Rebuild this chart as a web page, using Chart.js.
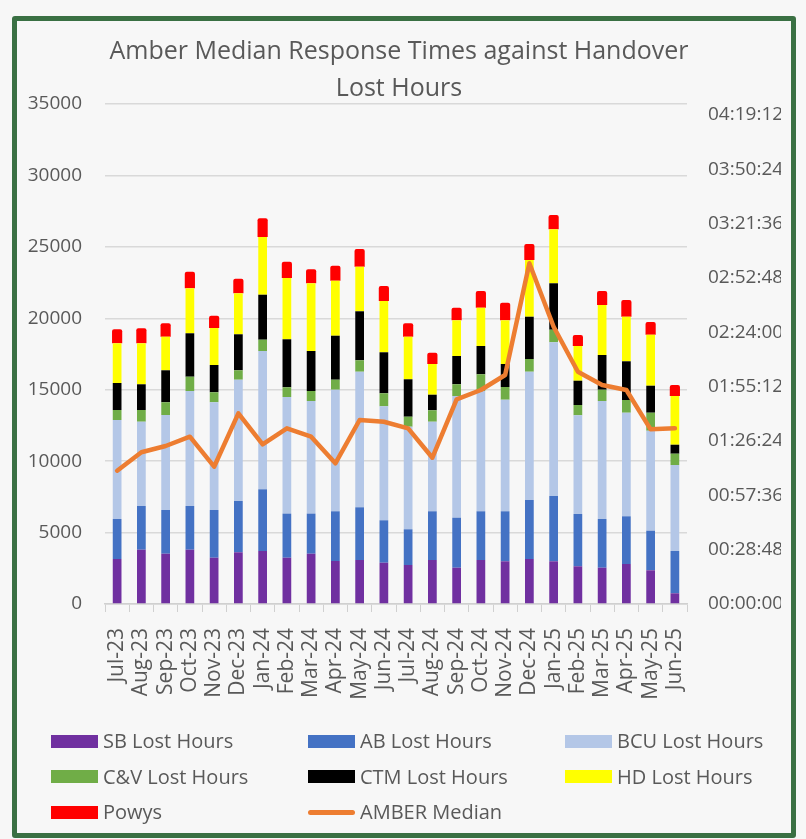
<!DOCTYPE html>
<html>
<head>
<meta charset="utf-8">
<script src="https://cdn.jsdelivr.net/npm/chart.js@4.4.1/dist/chart.umd.min.js"></script>
<style>
  body { margin: 0; width: 806px; height: 839px; background: #f7f7f7; position: relative; overflow: hidden; font-family: "Open Sans", sans-serif; }
  #frame { position: absolute; left: 12px; top: 16px; width: 774px; height: 812px; border: 5px solid #3a7043; border-radius: 3px; }
  .item { position: absolute; height: 28px; line-height: 28px; display: flex; align-items: center; font-size: 20px; color: #595959; white-space: nowrap; }
  .sw { width: 47px; margin-right: 5px; }
</style>
</head>
<body>
<div id="frame"><canvas id="chart-1"></canvas></div>
<div id="legend"></div>
<script>
const months = [
  "Jul-23", "Aug-23", "Sep-23", "Oct-23", "Nov-23", "Dec-23",
  "Jan-24", "Feb-24", "Mar-24", "Apr-24", "May-24", "Jun-24",
  "Jul-24", "Aug-24", "Sep-24", "Oct-24", "Nov-24", "Dec-24",
  "Jan-25", "Feb-25", "Mar-25", "Apr-25", "May-25", "Jun-25"
];
const sbLost = [3150, 3800, 3520, 3800, 3240, 3620, 3710, 3240, 3520, 3010, 3080, 2890,
  2730, 3080, 2540, 3080, 2990, 3150, 2990, 2640, 2540, 2800, 2360, 750];
const abLost = [2800, 3060, 3060, 3060, 3340, 3590, 4320, 3090, 2810, 3480, 3690, 2970,
  2500, 3410, 3500, 3410, 3500, 4130, 4570, 3660, 3410, 3340, 2770, 2960];
const bcuLost = [6930, 5900, 6650, 8050, 7540, 8490, 9680, 8160, 7880, 8510, 9490, 7980,
  7180, 6270, 8520, 8420, 7810, 8980, 10760, 6910, 8260, 7250, 7000, 6020];
const cvLost = [700, 820, 890, 1000, 700, 660, 790, 680, 700, 700, 800, 910,
  700, 800, 820, 1170, 890, 890, 880, 720, 790, 890, 1260, 790];
const ctmLost = [1890, 1800, 2240, 3040, 1910, 2520, 3150, 3360, 2800, 3080, 3430, 2870,
  2620, 1090, 1980, 1980, 1610, 2960, 3250, 1700, 2430, 2710, 1890, 630];
const hdLost = [2780, 2870, 2350, 3150, 2590, 2870, 4040, 4290, 4740, 3850, 3120, 3590,
  2980, 2150, 2500, 2680, 3060, 3970, 3780, 2430, 3500, 3120, 3570, 3410];
const powys = [980, 1050, 940, 1160, 860, 1020, 1310, 1140, 980, 1050, 1240, 1050,
  940, 790, 880, 1170, 1230, 1120, 1000, 770, 980, 1170, 890, 770];
// amber median response time, h:mm:ss
const amberMedian = [
  "1:10:39", "1:20:24", "1:23:44", "1:28:40", "1:12:46", "1:41:04",
  "1:24:38", "1:33:07", "1:28:40", "1:14:34", "1:37:31", "1:36:37",
  "1:33:07", "1:17:32", "1:48:29", "1:53:25", "2:01:22", "3:00:34",
  "2:26:58", "2:03:07", "1:56:04", "1:53:25", "1:32:35", "1:33:07"
];
const lostTicks = [0, 5000, 10000, 15000, 20000, 25000, 30000, 35000];
const timeTicks = ["00:00:00", "00:28:48", "00:57:36", "01:26:24", "01:55:12",
  "02:24:00", "02:52:48", "03:21:36", "03:50:24", "04:19:12"];
const timeAxisMax = "04:25:00";

function toSeconds(s) {
  const p = s.split(":").map(Number);
  return p[0] * 3600 + p[1] * 60 + p[2];
}
function toClock(v) {
  const pad = n => String(n).padStart(2, "0");
  const t = Math.round(v);
  return pad(Math.floor(t / 3600)) + ":" + pad(Math.floor(t % 3600 / 60)) + ":" + pad(t % 60);
}

Chart.defaults.font.family = '"Open Sans", sans-serif';
Chart.defaults.color = "#595959";

function bar(label, data, colour) {
  return { label: label, data: data, backgroundColor: colour, order: 1,
    categoryPercentage: 1, barPercentage: 0.36 };
}

const ctx1 = document.getElementById("chart-1").getContext("2d");
const myChart1 = new Chart(ctx1, {
  type: "bar",
  data: {
    labels: months,
    datasets: [
      bar("SB Lost Hours", sbLost, "#7030a0"),
      bar("AB Lost Hours", abLost, "#4472c4"),
      bar("BCU Lost Hours", bcuLost, "#b4c7e7"),
      bar("C&V Lost Hours", cvLost, "#70ad47"),
      bar("CTM Lost Hours", ctmLost, "#000000"),
      bar("HD Lost Hours", hdLost, "#ffff00"),
      Object.assign(bar("Powys", powys, "#ff0000"), { barPercentage: 0.42, borderRadius: 2 }),
      {
        type: "line",
        label: "AMBER Median",
        data: amberMedian.map(toSeconds),
        yAxisID: "y2",
        borderColor: "#ed7d31",
        backgroundColor: "#ed7d31",
        borderWidth: 4.5,
        pointRadius: 0,
        tension: 0,
        borderJoinStyle: "round",
        borderCapStyle: "round",
        order: 0
      }
    ]
  },
  options: {
    responsive: true,
    maintainAspectRatio: false,
    animation: false,
    layout: { padding: { right: 10 } },
    plugins: {
      legend: { display: false },
      tooltip: { enabled: false },
      title: {
        display: true,
        text: ["Amber Median Response Times against Handover", "Lost Hours"],
        color: "#595959",
        font: { size: 25, weight: "normal", lineHeight: 37 / 25 },
        padding: { top: 12, bottom: -3 }
      }
    },
    scales: {
      x: {
        stacked: true,
        offset: true,
        grid: { drawOnChartArea: false, drawTicks: true, tickLength: 8, color: "#d0d0d0", offset: true },
        border: { color: "#d0d0d0", width: 1.5 },
        ticks: { autoSkip: false, minRotation: 90, maxRotation: 90, padding: 16, font: { size: 21 } },
        afterFit: s => { s.height = 229; }
      },
      y: {
        stacked: true,
        min: lostTicks[0],
        max: lostTicks[lostTicks.length - 1],
        afterBuildTicks: s => { s.ticks = lostTicks.map(v => ({ value: v })); },
        ticks: { padding: 23, font: { size: 19 }, callback: v => String(v) },
        grid: { color: "#d9d9d9", lineWidth: 1.5, drawTicks: false },
        border: { display: false },
        afterFit: s => { s.width = 88; }
      },
      y2: {
        position: "right",
        min: 0,
        max: toSeconds(timeAxisMax),
        afterBuildTicks: s => { s.ticks = timeTicks.map(t => ({ value: toSeconds(t) })); },
        ticks: { padding: 21, font: { size: 19 }, callback: v => toClock(v) },
        grid: { display: false, drawTicks: false },
        border: { display: false },
        afterFit: s => { s.width = 94; }
      }
    }
  }
});

// legend in three columns, as in the original
const legend = document.getElementById("legend");
myChart1.data.datasets.forEach((ds, i) => {
  const item = document.createElement("div");
  item.className = "item";
  item.style.left = (51 + (i % 3) * 257) + "px";
  item.style.top = (741 + Math.floor(i / 3) * 35.5 - 14) + "px";
  const sw = document.createElement("span");
  sw.className = "sw";
  if (ds.type === "line") {
    sw.style.height = "5px";
    sw.style.borderRadius = "3px";
    sw.style.background = ds.borderColor;
  } else {
    sw.style.height = "13px";
    sw.style.background = ds.backgroundColor;
  }
  item.appendChild(sw);
  item.appendChild(document.createTextNode(ds.label));
  legend.appendChild(item);
});
</script>
</body>
</html>
